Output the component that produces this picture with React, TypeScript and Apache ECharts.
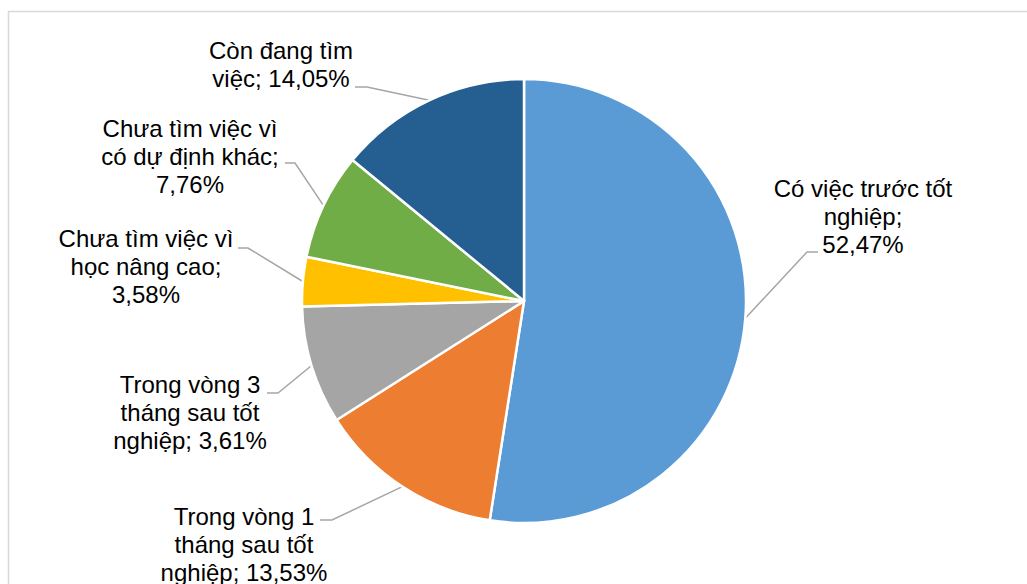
import React, { useEffect, useRef } from "react";
import * as echarts from "echarts";

const categories = [
  "Có việc trước tốt nghiệp",
  "Trong vòng 1 tháng sau tốt nghiệp",
  "Trong vòng 3 tháng sau tốt nghiệp",
  "Chưa tìm việc vì học nâng cao",
  "Chưa tìm việc vì có dự định khác",
  "Còn đang tìm việc",
];
// slice sizes as drawn (percent)
const values = [52.47, 13.53, 8.61, 3.58, 7.76, 14.05];
// label texts as printed on the chart
const labelTexts = [
  "Có việc trước tốt\nnghiệp;\n52,47%",
  "Trong vòng 1\ntháng sau tốt\nnghiệp; 13,53%",
  "Trong vòng 3\ntháng sau tốt\nnghiệp; 3,61%",
  "Chưa tìm việc vì\nhọc nâng cao;\n3,58%",
  "Chưa tìm việc vì\ncó dự định khác;\n7,76%",
  "Còn đang tìm\nviệc; 14,05%",
];
const colors = ["#5B9BD5", "#ED7D31", "#A5A5A5", "#FFC000", "#70AD47", "#255E91"];

// label centre positions
const labelPos: [number, number][] = [
  [863, 216],
  [244, 544],
  [190, 412],
  [146, 266],
  [190, 156],
  [281, 64],
];
// where each leader line meets its label, and the elbow offset (horizontal)
const leaderEnd: [number, number, number][] = [
  [818, 252, -11],
  [320, 520, 12],
  [267, 393, 11],
  [238, 248, 10],
  [285, 163, 10],
  [355, 87, 12],
];

export default function App() {
  const ref = useRef<HTMLDivElement>(null);
  useEffect(() => {
    if (!ref.current) return;
    const chart = echarts.init(ref.current, null, { renderer: "svg" });
    chart.setOption({
      animation: false,
      backgroundColor: "#ffffff",
      graphic: [
        {
          type: "rect",
          shape: { x: 8.5, y: 11.5, width: 1100, height: 700 },
          style: { fill: "none", stroke: "#D9D9D9", lineWidth: 1.5 },
          silent: true,
        },
      ],
      series: [
        {
          type: "pie",
          center: [524, 301],
          radius: 222,
          startAngle: 90,
          clockwise: true,
          avoidLabelOverlap: false,
          data: categories.map((c, i) => ({
            name: c,
            value: values[i],
            itemStyle: { color: colors[i] },
          })),
          itemStyle: { borderColor: "#ffffff", borderWidth: 2.5 },
          label: {
            show: true,
            position: "outside",
            formatter: (p: any) => labelTexts[p.dataIndex],
            fontFamily: "Liberation Sans, Arial, sans-serif",
            fontSize: 24,
            lineHeight: 28,
            color: "#000000",
            align: "center",
          },
          labelLine: {
            show: true,
            length: 10,
            length2: 10,
            lineStyle: { color: "#A6A6A6", width: 1.5 },
          },
          labelLayout: (p: any) => {
            const i = p.dataIndex;
            const pos = labelPos[i];
            const out: any = {
              x: pos[0],
              y: pos[1],
              align: "center",
              verticalAlign: "middle",
            };
            const pts = p.labelLinePoints;
            if (pts && pts.length) {
              const e = leaderEnd[i];
              out.labelLinePoints = [
                [pts[0][0], pts[0][1]],
                [e[0] + e[2], e[1]],
                [e[0], e[1]],
              ];
            }
            return out;
          },
          emphasis: { disabled: true },
        },
      ],
    });
    return () => chart.dispose();
  }, []);
  return (
    <div
      ref={ref}
      style={{ position: "fixed", left: 0, top: 0, width: 1027, height: 584 }}
    />
  );
}
